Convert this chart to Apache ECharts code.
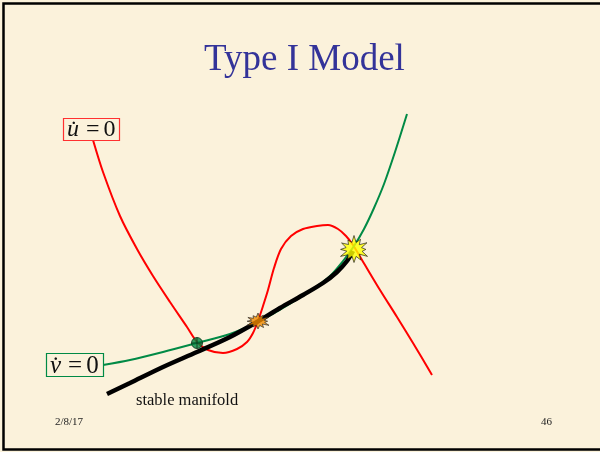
<!DOCTYPE html>
<html>
<head>
<meta charset="utf-8">
<script src="https://cdn.jsdelivr.net/npm/echarts@6/dist/echarts.min.js"></script>
<style>
html,body{margin:0;padding:0;background:#FBF2DB;}
#chart{width:600px;height:452px;}
</style>
</head>
<body>
<div id="chart"></div>
<script>
var uNullcline = [[93,312],[103,280],[120,236],[137,203],[153,176],[170,150],[187,125],[197,110],[208,102],[223,99],[237,103],[247,110],[253,119],[258,131],[263,146],[268,162],[274,184],[281,203],[291,216],[303,223],[317,226],[328,227],[338,223],[346,216],[353,207],[362,192],[380,162],[397,135],[413,109],[432,77]];
var vNullcline = [[103,87],[130,92],[163,100],[197,109],[230,118],[258,130],[283,144],[313,163],[330,176],[343,191],[354,206],[364,223],[374,244],[384,268],[395,300],[407,338]];
var stableManifold = [[107,58],[130,69],[163,85],[197,100],[230,115],[257,130],[280,144],[303,157],[323,169],[337,180],[347,191],[353,201]];
var stableNode = [[197,109]];
var saddlePoint = [[258,131]];
var unstablePoint = [[354,203]];
var titleText = 'Type I Model';
var footerDate = '2/8/17';
var pageNumber = '46';

function starPath(radii) {
  var n = radii.length, pts = [];
  for (var i = 0; i < n; i++) {
    var a = (i / n) * Math.PI * 2 - Math.PI / 2;
    var r = radii[i];
    pts.push([50 + Math.cos(a) * r, 50 + Math.sin(a) * r]);
  }
  var d = 'M' + pts[0][0].toFixed(2) + ',' + pts[0][1].toFixed(2);
  for (var j = 1; j < n; j++) d += ' L' + pts[j][0].toFixed(2) + ',' + pts[j][1].toFixed(2);
  return 'path://' + d + ' Z';
}
var starRadii = [50,26,42,24,48,25,38,27,50,24,44,26,47,25,40,27,50,24,43,26,46,25,39,26];
var burst = starPath(starRadii);
var crossCircle = 'path://M0,10 A10,10 0 1,1 20,10 A10,10 0 1,1 0,10 Z M10,0 L10,20 M0,10 L20,10';

var serif = '"Liberation Serif", "Times New Roman", serif';
var chart = echarts.init(document.getElementById('chart'));
chart.setOption({
  backgroundColor: '#FBF2DB',
  animation: false,
  grid: {left: 0, right: 0, top: 0, bottom: 0},
  xAxis: {type: 'value', min: 0, max: 600, show: false},
  yAxis: {type: 'value', min: 0, max: 452, show: false},
  series: [
    {type: 'line', data: uNullcline, smooth: 0.3, symbol: 'none', z: 2,
     lineStyle: {color: '#FF0000', width: 2}},
    {type: 'line', data: vNullcline, smooth: 0.3, symbol: 'none', z: 3,
     lineStyle: {color: '#008A45', width: 2}},
    {type: 'line', data: stableManifold, smooth: 0.3, symbol: 'none', z: 4,
     lineStyle: {color: '#000000', width: 4.5}},
    {type: 'scatter', data: stableNode, symbol: crossCircle, symbolSize: 11, z: 5,
     itemStyle: {color: '#00833F', borderColor: '#10301A', borderWidth: 1}},
    {type: 'scatter', data: saddlePoint, symbol: burst, symbolSize: [22, 16], z: 5,
     itemStyle: {color: '#F08A00', borderColor: '#222', borderWidth: 0.8}},
    {type: 'scatter', data: unstablePoint, symbol: burst, symbolSize: [27, 27], z: 5,
     itemStyle: {color: '#FFFF00', borderColor: '#111', borderWidth: 0.8}}
  ],
  graphic: [
    {type: 'rect', shape: {x: 3.5, y: 3.5, width: 700, height: 446},
     style: {fill: 'none', stroke: '#000', lineWidth: 2.5}, z: 1, silent: true},
    {type: 'text', x: 204, y: 42, z: 10,
     style: {text: titleText, font: '37px ' + serif, fill: '#333399'}},
    {type: 'rect', shape: {x: 63.5, y: 118.5, width: 56, height: 22},
     style: {fill: '#FBF2DB', stroke: '#FF3030', lineWidth: 1.2}, z: 9},
    {type: 'text', x: 67, y: 118, z: 10,
     style: {
       text: '{i|u\u0307}{e|=}{z|0}',
       rich: {
         i: {font: 'italic 24px ' + serif, fill: '#111'},
         e: {font: '24px ' + serif, fill: '#111', padding: [0, 4, 0, 7]},
         z: {font: '24px ' + serif, fill: '#111'}
       }
     }},
    {type: 'rect', shape: {x: 46.5, y: 353.5, width: 57, height: 23},
     style: {fill: '#FBF2DB', stroke: '#008A45', lineWidth: 1.2}, z: 9},
    {type: 'text', x: 50, y: 354, z: 10,
     style: {
       text: '{i|v\u0307}{e|=}{z|0}',
       rich: {
         i: {font: 'italic 25px ' + serif, fill: '#111'},
         e: {font: '25px ' + serif, fill: '#111', padding: [0, 4, 0, 7]},
         z: {font: '25px ' + serif, fill: '#111'}
       }
     }},
    {type: 'text', x: 136, y: 392, z: 10,
     style: {text: 'stable manifold', font: '16.5px ' + serif, fill: '#111'}},
    {type: 'text', x: 55, y: 417, z: 10,
     style: {text: footerDate, font: '11px ' + serif, fill: '#222'}},
    {type: 'text', x: 541, y: 417, z: 10,
     style: {text: pageNumber, font: '11px ' + serif, fill: '#222'}}
  ]
});
</script>
</body>
</html>
